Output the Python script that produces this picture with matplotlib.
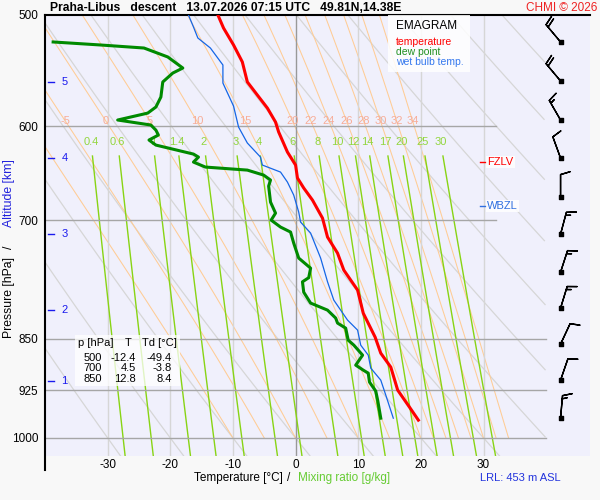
import numpy as np
import matplotlib
matplotlib.use('Agg')
import matplotlib.pyplot as plt
from matplotlib.patches import Rectangle
from matplotlib.lines import Line2D

plt.rcParams['font.family'] = ['Liberation Sans', 'DejaVu Sans']

# sounding: pressure [hPa] and temperature [°C]
t_pres = [500, 510.8, 525.2, 540.0, 558.0, 570.1, 582.4, 595.9, 605.7, 625.9, 639.4, 653.1,
          663.9, 677.2, 697.5, 719.5, 738.7, 759.5, 784.8, 815.0, 847.7, 870.3, 890.4, 924.6,
          952.4, 971.2]
t_vals = [-12.4, -11.5, -9.9, -8.5, -7.7, -6.1, -4.5, -3.2, -2.7, -1.3, 0.0, 0.3,
          1.3, 2.7, 4.3, 5.1, 6.7, 7.7, 9.9, 10.8, 12.7, 13.6, 15.2, 16.3,
          18.3, 19.6]

td_pres = [522.6, 525.2, 527.8, 535.6, 545.4, 549.9, 558.0, 571.9, 581.4, 587.2, 593.9, 598.8,
           603.8, 608.7, 613.7, 618.8, 628.0, 631.1, 636.3, 641.5, 644.7, 650.0, 655.3, 661.8,
           679.4, 691.8, 699.8, 707.8, 713.6, 726.6, 744.7, 757.1, 769.0, 774.2, 787.5, 801.7,
           811.0, 821.6, 828.4, 835.3, 851.9, 858.9, 873.1, 887.5, 894.8, 899.2, 912.5, 926.1,
           939.8, 968.1]
td_vals = [-38.7, -31.1, -24.2, -20.4, -18.0, -19.6, -21.2, -21.5, -22.3, -23.6, -28.4, -23.1,
           -22.3, -21.9, -23.4, -22.3, -16.3, -15.5, -16.3, -14.4, -7.7, -5.1, -4.0, -4.3,
           -4.0, -3.2, -3.9, -2.4, -0.8, -0.3, 0.5, 2.4, 2.1, 1.1, 1.3, 2.4,
           5.1, 6.4, 6.7, 8.0, 8.4, 9.3, 10.7, 9.6, 10.8, 11.6, 11.8, 12.8,
           13.1, 13.6]

tw_pres = [500, 509.9, 519.2, 527.8, 542.7, 559.0, 580.5, 600.8, 616.7, 631.1, 639.4, 646.8,
           657.5, 671.6, 690.6, 702.0, 714.8, 744.7, 774.2, 797.8, 811.0, 824.4, 838.0, 858.9,
           873.1, 891.8, 909.6, 932.2, 968.1]
tw_vals = [-17.1, -16.3, -15.6, -13.6, -11.6, -11.6, -9.9, -9.1, -7.7, -5.6, -5.3, -2.4,
           -1.3, -0.3, 0.5, 0.8, 2.4, 4.0, 5.1, 6.1, 7.2, 8.3, 9.9, 10.4,
           11.6, 12.0, 13.6, 14.4, 15.6]

# summary table
table_p = [500, 700, 850]
table_t = [-12.4, 4.5, 12.8]
table_td = [-49.4, -3.8, 8.4]

# wind: pressure [hPa], direction [deg], speed [kt]
wind_p = [522.6, 557.1, 593.9, 632.1, 673.9, 716.0, 762.0, 808.3, 857.5, 909.6, 968.0]
wind_dir = [320, 320, 330, 340, 360, 15, 18, 17, 25, 19, 5]
wind_spd = [20, 20, 15, 10, 10, 15, 15, 15, 10, 10, 15]

# altitude marks [km] and their pressure
alt_km = [1, 2, 3, 4, 5]
alt_p = [911.1, 811.0, 715.9, 632.1, 558.0]

fzlv_p = 636.3
wbzl_p = 683.8

p_ticks = [500, 600, 700, 850, 925, 1000]
t_ticks = [-30, -20, -10, 0, 10, 20, 30]
mix_ratios = [0.4, 0.6, 1, 1.4, 2, 3, 4, 6, 8, 10, 12, 14, 17, 20, 25, 30]
theta_w = [-10, -5, 0, 5, 10, 15, 20, 22, 24, 26, 28, 30, 32, 34]
theta_dry = list(range(-30, 120, 10))


def dewpoint_from_w(w, p):
    e = w * p / (622.0 + w)
    a = np.log(e / 6.112)
    return 243.5 * a / (17.67 - a)


def moist_lapse(T, p):
    tc = T - 273.15
    es = 6.112 * np.exp(17.67 * tc / (tc + 243.5))
    rs = 0.622 * es / (p - es)
    lv = 2.501e6
    return (287.04 * T + lv * rs) / (p * (1004.0 + lv * lv * rs * 0.622 / (287.04 * T * T)))


def moist_adiabat(thw, levels):
    T = thw + 273.15
    out = [T]
    for p0, p1 in zip(levels[:-1], levels[1:]):
        dp = p1 - p0
        k1 = moist_lapse(T, p0)
        k2 = moist_lapse(T + 0.5 * dp * k1, p0 + 0.5 * dp)
        T = T + dp * k2
        out.append(T)
    return np.array(out) - 273.15


def fx(px):
    return px / 600


def fy(py):
    return 1 - py / 500


fig = plt.figure(figsize=(6, 5), dpi=100, facecolor='#f8f8f8')
ax = fig.add_axes([fx(45), fy(456), 545 / 600, 441 / 500])
ax.set_facecolor('#f0f0fc')
ax.set_yscale('log')
ax.set_xlim(-40, 47)
ax.set_ylim(1030, 500)

# dry adiabats
pp = np.linspace(500, 1030, 200)
for th in theta_dry:
    T = (th + 273.15) * (pp / 1000) ** 0.2857 - 273.15
    T = np.where(T <= 40, T, np.nan)
    ax.plot(T, pp, color='#d6d6d6', lw=0.9, zorder=1)

# moist adiabats
levels = np.linspace(1000, 500, 251)
for thw in theta_w:
    T = moist_adiabat(thw, levels)
    T = np.where(T <= 40, T, np.nan)
    ax.plot(T, levels, color='#ffcc95', lw=0.75, zorder=1)
    tl = np.interp(-595, -levels, T)
    if tl > -39:
        ax.text(tl, 595, f'{thw:g}', color='#f7ad98', fontsize=8, ha='center', va='center', zorder=3)

# mixing ratio lines
pm = np.linspace(630, 1030, 60)
for w in mix_ratios:
    ax.plot(dewpoint_from_w(w, pm), pm, color='#88d414', lw=1.0, zorder=2)
    ax.text(dewpoint_from_w(w, 616), 616, f'{w:g}', color='#92d63e', fontsize=8,
            ha='center', va='center', zorder=3)

# isotherms and isobars
for t in t_ticks:
    ax.plot([t, t], [500, 1030], color='#999999' if t == 0 else '#d6d6d6', lw=1, zorder=1.5)
for p in [600, 700]:
    ax.plot([-40, 32], [p, p], color='#a6a6a6', lw=1, zorder=2.5)
for p in [850, 925, 1000]:
    ax.plot([-40, 40], [p, p], color='#a6a6a6', lw=1, zorder=2.5)

# profiles
ax.plot(tw_vals, tw_pres, color='#1466e6', lw=0.9, zorder=5)
ax.plot(td_vals, td_pres, color='#008a00', lw=2.2, zorder=6)
ax.plot(t_vals, t_pres, color='#ff0000', lw=2.2, zorder=7)

# altitude marks
for km, p in zip(alt_km, alt_p):
    ax.plot([-39.6, -38.5], [p, p], color='#1a1aee', lw=1, zorder=8)
    ax.text(-37.4, p, str(km), color='#1a1aee', fontsize=8, ha='left', va='center', zorder=8)

# freezing level / wet bulb zero
ax.plot([29.4, 30.4], [fzlv_p, fzlv_p], color='#ff0000', lw=1, zorder=8)
ax.text(30.6, fzlv_p, 'FZLV', color='#ff0000', fontsize=8, ha='left', va='center', zorder=8,
        bbox=dict(facecolor='white', edgecolor='none', pad=1, alpha=0.85))
ax.plot([29.4, 30.4], [wbzl_p, wbzl_p], color='#3070e0', lw=1, zorder=8)
ax.text(30.6, wbzl_p, 'WBZL', color='#3070e0', fontsize=8, ha='left', va='center', zorder=8,
        bbox=dict(facecolor='white', edgecolor='none', pad=1, alpha=0.85))

# wind barbs
wd = np.radians(wind_dir)
u = -np.array(wind_spd) * np.sin(wd)
v = -np.array(wind_spd) * np.cos(wd)
bx = np.full(len(wind_p), 42.3)
ax.barbs(bx, wind_p, u, v, length=5.7, lw=1, color='black', zorder=9,
         sizes=dict(spacing=0.14, height=0.42))
ax.scatter(bx, wind_p, marker='s', s=7, color='black', zorder=10)

# axes styling
ax.set_yticks(p_ticks)
ax.set_yticklabels([str(p) for p in p_ticks])
ax.yaxis.set_minor_locator(plt.NullLocator())
ax.set_xticks(t_ticks)
ax.set_xticklabels([str(t) for t in t_ticks])
ax.tick_params(axis='y', length=0, labelsize=8.5, pad=5)
ax.tick_params(axis='x', length=0, labelsize=8.5, pad=2)
for s in ['right', 'bottom', 'left']:
    ax.spines[s].set_visible(False)
ax.spines['top'].set_linewidth(1.5)
fig.add_artist(Line2D([fx(45), fx(45)], [fy(15), fy(470)], color='black', lw=1.5))

# legend box
fig.add_artist(Rectangle((fx(388), fy(72)), 82 / 600, 57 / 500, transform=fig.transFigure,
                         facecolor='white', edgecolor='none', alpha=0.85, zorder=20))
fig.text(fx(396), fy(26), 'EMAGRAM', fontsize=8.5, va='center', zorder=21)
fig.text(fx(396), fy(42), 'temperature', color='#ff0000', fontsize=7.5, va='center', zorder=21)
fig.text(fx(396), fy(52), 'dew point', color='#209020', fontsize=7.5, va='center', zorder=21)
fig.text(fx(396), fy(62), 'wet bulb temp.', color='#3377ee', fontsize=7.5, va='center', zorder=21)

# table
fig.add_artist(Rectangle((fx(75), fy(386)), 105 / 600, 51 / 500, transform=fig.transFigure,
                         facecolor='white', edgecolor='none', alpha=0.75, zorder=20))
fig.text(fx(78), fy(343), 'p [hPa]', fontsize=8, va='center', zorder=21)
fig.text(fx(128), fy(343), 'T', fontsize=8, va='center', ha='center', zorder=21)
fig.text(fx(142), fy(343), 'Td [°C]', fontsize=8, va='center', zorder=21)
for i, p in enumerate(table_p):
    yy = fy(358 + 10.3 * i)
    fig.text(fx(102), yy, str(p), fontsize=8, ha='right', va='center', zorder=21)
    fig.text(fx(136), yy, f'{table_t[i]:.1f}', fontsize=8, ha='right', va='center', zorder=21)
    fig.text(fx(172), yy, f'{table_td[i]:.1f}', fontsize=8, ha='right', va='center', zorder=21)

# titles and labels
fig.text(fx(50), fy(8), 'Praha-Libus   descent   13.07.2026 07:15 UTC   49.81N,14.38E',
         fontsize=8.7, fontweight='bold', va='center')
fig.text(fx(597), fy(8), 'CHMI © 2026', color='#ee2222', fontsize=8.5, ha='right', va='center')
fig.text(fx(9), fy(298), 'Pressure [hPa]', rotation=90, fontsize=8.8, ha='center', va='center')
fig.text(fx(9), fy(247), '/', rotation=90, fontsize=8.8, ha='center', va='center')
fig.text(fx(9), fy(193), 'Altitude [km]', rotation=90, fontsize=8.8, ha='center', va='center',
         color='#2222dd')
fig.text(fx(238), fy(478), 'Temperature [°C]', fontsize=8.5, ha='center', va='center')
fig.text(fx(289), fy(478), '/', fontsize=8.5, ha='center', va='center')
fig.text(fx(344), fy(478), 'Mixing ratio [g/kg]', fontsize=8.5, ha='center', va='center',
         color='#66cc33')
fig.text(fx(520), fy(478), 'LRL: 453 m ASL', fontsize=8, ha='center', va='center', color='#2233dd')

fig.savefig('out.png', dpi=100, facecolor=fig.get_facecolor())
